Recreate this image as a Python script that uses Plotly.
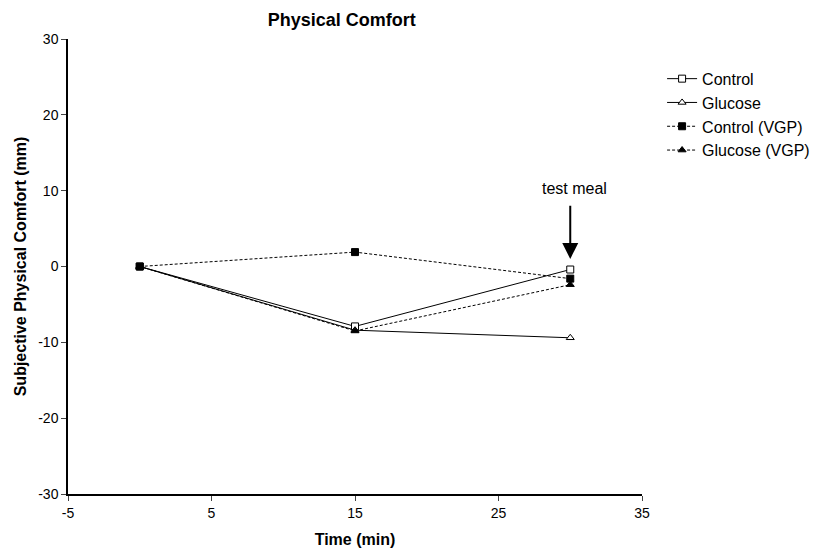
import plotly.graph_objects as go

time_min = [0, 15, 30]
control = [0.0, -7.9, -0.4]
glucose = [0.0, -8.4, -9.4]
control_vgp = [0.0, 1.9, -1.6]
glucose_vgp = [0.0, -8.5, -2.4]

x_ticks = [-5, 5, 15, 25, 35]
x_tick_labels = ["-5", "5", "15", "25", "35"]
y_ticks = [-30, -20, -10, 0, 10, 20, 30]
y_tick_labels = ["-30", "-20", "-10", "0", "10", "20", "30"]

font_family = "Liberation Sans, Arial, sans-serif"

fig = go.Figure()

def add(name, y, symbol, fill, dash):
    fig.add_trace(go.Scatter(
        x=time_min, y=y, name=name, mode="lines+markers",
        line=dict(color="black", width=1, dash=dash),
        marker=dict(symbol=symbol, size=7, color=fill,
                    line=dict(color="black", width=1)),
    ))

add("Control", control, "square", "white", "solid")
add("Glucose", glucose, "triangle-up", "white", "solid")
add("Control (VGP)", control_vgp, "square", "black", "3px,2px")
add("Glucose (VGP)", glucose_vgp, "triangle-up", "black", "3px,2px")

fig.add_annotation(x=30, y=1.0, ax=30, ay=8.2, xref="x", yref="y",
                   axref="x", ayref="y", showarrow=True, arrowhead=2,
                   arrowsize=1.6, arrowwidth=2, arrowcolor="black", text="")
fig.add_annotation(x=30.3, y=10.3, xref="x", yref="y", text="test meal",
                   showarrow=False, font=dict(size=16, color="black", family=font_family))

fig.update_layout(
    width=828, height=554,
    margin=dict(l=60, r=194, t=31, b=68),
    paper_bgcolor="white", plot_bgcolor="white",
    font=dict(family=font_family, color="black", size=14),
    title=dict(text="<b>Physical Comfort</b>", x=0.477, xanchor="center",
               xref="paper", y=0.99, yanchor="top",
               font=dict(size=18, family=font_family)),
    legend=dict(x=1.035, y=0.95, xanchor="left", yanchor="top",
                font=dict(size=16), itemwidth=30, tracegroupgap=0,
                bgcolor="rgba(0,0,0,0)"),
    showlegend=True,
)
fig.update_xaxes(range=[-5, 35], tickvals=x_ticks, ticktext=x_tick_labels,
                 ticks="outside", ticklen=5, automargin=False,
                 showline=True, linecolor="black", linewidth=1.5, showgrid=False,
                 zeroline=False, tickfont=dict(size=14),
                 title=dict(text="<b>Time (min)</b>", font=dict(size=16), standoff=14))
fig.update_yaxes(range=[-30, 30], tickvals=y_ticks, ticktext=y_tick_labels,
                 ticks="outside", ticklen=5, automargin=False,
                 showline=True, linecolor="black", linewidth=1.5, showgrid=False,
                 zeroline=False, tickfont=dict(size=14),
                 title=dict(text="<b>Subjective Physical Comfort (mm)</b>", font=dict(size=16), standoff=8))

fig.write_html("out.html")
